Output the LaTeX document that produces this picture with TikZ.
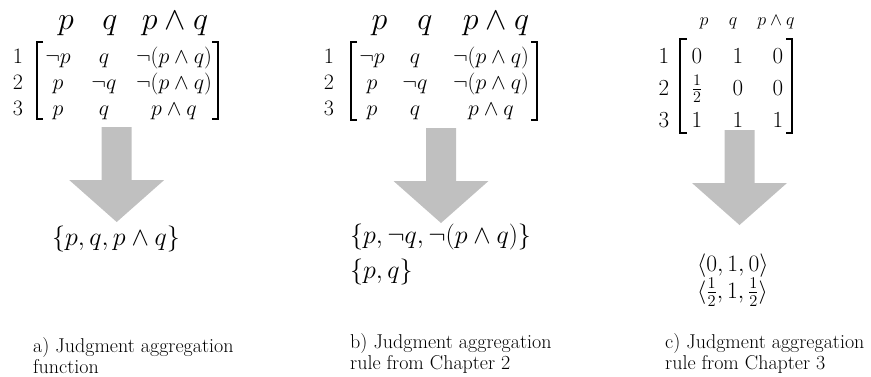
\documentclass[tikz,border=0pt]{standalone}
\usepackage{fix-cm}
\usepackage{amsmath}
\definecolor{arrowgray}{RGB}{192,192,192}
\tikzset{
  hdr/.style={anchor=base, inner sep=0pt, font=\fontsize{32}{36}\selectfont},
  hdrsmall/.style={anchor=base, inner sep=0pt, font=\fontsize{18}{20}\selectfont},
  ent/.style={anchor=base, inner sep=0pt, font=\fontsize{22}{26}\selectfont},
  entc/.style={anchor=base, inner sep=0pt, font=\fontsize{23}{28}\selectfont},
  res/.style={anchor=base west, inner sep=0pt, font=\fontsize{26}{30}\selectfont},
  resc/.style={anchor=base west, inner sep=0pt, text height=13pt, text depth=4pt, font=\fontsize{23.5}{28}\selectfont},
  captext/.style={anchor=base west, inner sep=0pt, align=left, font=\fontsize{20}{21}\selectfont},
  brk/.style={line width=1.3pt},
  blockarrow/.pic={\fill[arrowgray] (-15,0) -- (-15,53) -- (-47.5,53) -- (0,95) -- (47.5,53) -- (15,53) -- (15,0) -- cycle;}
}
\begin{document}
\begin{tikzpicture}[x=1pt,y=-1pt]
\useasboundingbox (0,0) rectangle (871,376);
% ---------- a ----------
\node[hdr] (ahp) at (66,29) {$p$};
\node[hdr] (ahq) at (110,29) {$q$};
\node[hdr] (ahpq) at (175,29) {$p\wedge q$};
\node[ent] (ar1) at (18,63) {$1$};
\node[ent] (ar2) at (18,89) {$2$};
\node[ent] (ar3) at (18,115) {$3$};
\node[ent] (a11) at (58,63) {$\neg p$};
\node[ent] (a21) at (58,89) {$p$};
\node[ent] (a31) at (58,115) {$p$};
\node[ent] (a12) at (104,63) {$q$};
\node[ent] (a22) at (104,89) {$\neg q$};
\node[ent] (a32) at (104,115) {$q$};
\node[ent] (a13) at (174,63) {$\neg(p\wedge q)$};
\node[ent] (a23) at (174,89) {$\neg(p\wedge q)$};
\node[ent] (a33) at (174,115) {$p\wedge q$};
\draw[brk] (43,42) -- (37,42) -- (37,119) -- (43,119);
\draw[brk] (212,42) -- (218,42) -- (218,119) -- (212,119);
\pic at (116.7,127) {blockarrow};
\node[res] (ares) at (52,245.5) {$\{p,q,p\wedge q\}$};
\node[captext] (acap) at (33,373) {a) Judgment aggregation\\function};
% ---------- b ----------
\node[hdr] (bhp) at (379.5,29) {$p$};
\node[hdr] (bhq) at (425,29) {$q$};
\node[hdr] (bhpq) at (496,29) {$p\wedge q$};
\node[ent] (br1) at (329,63) {$1$};
\node[ent] (br2) at (329,89) {$2$};
\node[ent] (br3) at (329,115) {$3$};
\node[ent] (b11) at (372,63) {$\neg p$};
\node[ent] (b21) at (372,89) {$p$};
\node[ent] (b31) at (372,115) {$p$};
\node[ent] (b12) at (415,63) {$q$};
\node[ent] (b22) at (415,89) {$\neg q$};
\node[ent] (b32) at (415,115) {$q$};
\node[ent] (b13) at (491,63) {$\neg(p\wedge q)$};
\node[ent] (b23) at (491,89) {$\neg(p\wedge q)$};
\node[ent] (b33) at (491,115) {$p\wedge q$};
\draw[brk] (357,42) -- (351,42) -- (351,120) -- (357,120);
\draw[brk] (531,42) -- (537,42) -- (537,120) -- (531,120);
\pic at (441,128) {blockarrow};
\node[res] (bres1) at (350,243.5) {$\{p,\neg q,\neg(p\wedge q)\}$};
\node[res] (bres2) at (350,278.5) {$\{p,q\}$};
\node[captext] (bcap) at (350,369) {b) Judgment aggregation\\rule from Chapter 2};
% ---------- c ----------
\node[hdrsmall] (chp) at (704,25) {$p$};
\node[hdrsmall] (chq) at (733,25) {$q$};
\node[hdrsmall] (chpq) at (776,25) {$p\wedge q$};
\node[entc] (cr1) at (664,63) {$1$};
\node[entc] (cr2) at (664,95) {$2$};
\node[entc] (cr3) at (664,127) {$3$};
\node[entc] (c11) at (697,63) {$0$};
\node[entc] (c21) at (697,95) {$\frac{1}{2}$};
\node[entc] (c31) at (697,127) {$1$};
\node[entc] (c12) at (738,63) {$1$};
\node[entc] (c22) at (738,95) {$0$};
\node[entc] (c32) at (738,127) {$1$};
\node[entc] (c13) at (778,63) {$0$};
\node[entc] (c23) at (778,95) {$0$};
\node[entc] (c33) at (778,127) {$1$};
\draw[brk] (687,39) -- (680,39) -- (680,133) -- (687,133);
\draw[brk] (786,39) -- (792,39) -- (792,133) -- (786,133);
\pic at (739.5,130) {blockarrow};
\node[resc] (cres1) at (697,271) {$\langle 0,1,0\rangle$};
\node[resc] (cres2) at (697,298) {$\langle \frac{1}{2},1,\frac{1}{2}\rangle$};
\node[captext] (ccap) at (665,369) {c) Judgment aggregation\\rule from Chapter 3};
\end{tikzpicture}
\end{document}
